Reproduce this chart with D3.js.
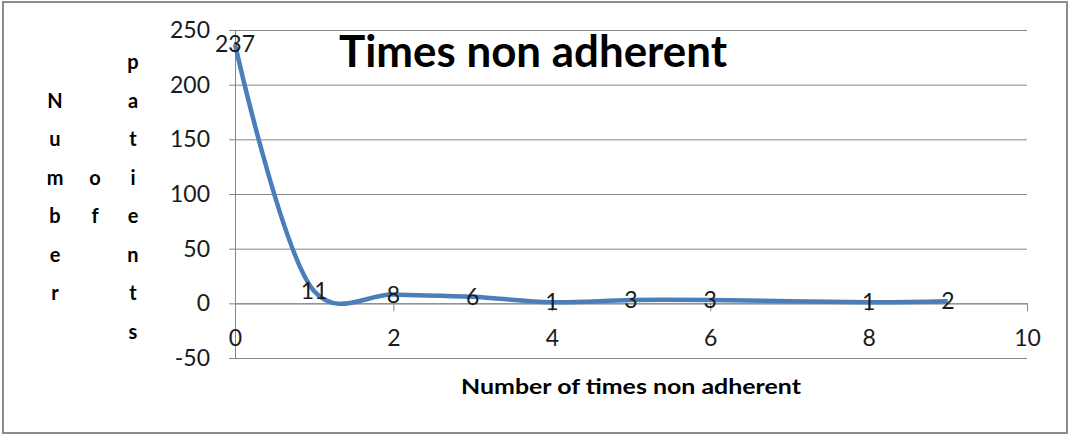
<!DOCTYPE html>
<html>
<head>
<meta charset="utf-8">
<script src="https://cdn.jsdelivr.net/npm/d3@7"></script>
<style>
body { margin: 0; background: #fff; }
text { font-family: Lato, "Open Sans", sans-serif; }
</style>
</head>
<body>
<div id="chart"></div>
<script>
(function(d3) {
'use strict';

var timesNonAdherent = [0, 1, 2, 3, 4, 5, 6, 8, 9];
var patients = [237, 11, 8, 6, 1, 3, 3, 1, 2];
var xTicks = [0, 2, 4, 6, 8, 10];
var yTicks = [-50, 0, 50, 100, 150, 200, 250];

var width = 1071;
var height = 437;
var margin = {left: 235, right: 44, top: 30, bottom: 79};

var x = d3.scaleLinear()
	.domain([0, 10])
	.range([margin.left, width - margin.right]);

var y = d3.scaleLinear()
	.domain([-50, 250])
	.range([height - margin.bottom, margin.top]);

var svg = d3.select('#chart')
	.append('svg')
	.attr('width', width)
	.attr('height', height);

// outer frame
svg.append('rect')
	.attr('x', 3).attr('y', 2)
	.attr('width', 1064).attr('height', 431)
	.attr('fill', '#fff')
	.attr('stroke', '#8c8c8c')
	.attr('stroke-width', 2);

// horizontal gridlines + y tick marks
var yAxis = d3.axisLeft(y)
	.tickValues(yTicks)
	.tickFormat(function(d) { return String(d); })
	.tickSize(-(x(10) - x(0)))
	.tickSizeOuter(0)
	.tickPadding(0);

var gy = svg.append('g')
	.attr('transform', 'translate(' + x(0) + ',0)')
	.call(yAxis);
gy.select('.domain').attr('stroke', '#868686');
gy.selectAll('.tick line')
	.attr('stroke', '#868686')
	.attr('x1', -6);
gy.selectAll('.tick text')
	.attr('x', -25)
	.attr('font-size', 23)
	.attr('fill', '#1a1a1a')
	.attr('font-family', 'Lato, sans-serif');

// x axis sits at y = 0, labels drawn near the bottom
var xAxis = d3.axisBottom(x)
	.tickValues(xTicks)
	.tickSize(8)
	.tickSizeOuter(0);

var gx = svg.append('g')
	.attr('transform', 'translate(0,' + y(0) + ')')
	.call(xAxis);
gx.select('.domain').attr('stroke', '#868686');
gx.selectAll('.tick line').attr('stroke', '#868686').attr('y1', 0).attr('y2', 8);
gx.selectAll('.tick text')
	.attr('y', 43)
	.attr('dy', 0)
	.attr('font-size', 23)
	.attr('fill', '#1a1a1a')
	.attr('font-family', 'Lato, sans-serif');

// smoothed series line
var points = timesNonAdherent.map(function(t, i) { return {t: t, n: patients[i]}; });

var line = d3.line()
	.x(function(d) { return x(d.t); })
	.y(function(d) { return y(d.n); })
	.curve(d3.curveCatmullRom.alpha(0.25));

svg.append('path')
	.datum(points)
	.attr('d', line)
	.attr('fill', 'none')
	.attr('stroke', '#4a7ebb')
	.attr('stroke-width', 4.5)
	.attr('stroke-linejoin', 'round');

// data labels centred on points
svg.append('g')
	.selectAll('text')
	.data(points)
	.enter().append('text')
	.attr('x', function(d) { return x(d.t); })
	.attr('y', function(d) { return y(d.n); })
	.attr('dy', '0.35em')
	.attr('text-anchor', 'middle')
	.attr('font-size', 23)
	.attr('fill', '#1a1a1a')
	.text(function(d) { return d.n; });

// title
svg.append('text')
	.attr('x', 533)
	.attr('y', 67)
	.attr('text-anchor', 'middle')
	.attr('font-size', 44)
	.attr('font-weight', 'bold')
	.attr('textLength', 388)
	.attr('lengthAdjust', 'spacingAndGlyphs')
	.attr('fill', '#000')
	.text('Times non adherent');

// x axis title
svg.append('text')
	.attr('x', 631)
	.attr('y', 394)
	.attr('text-anchor', 'middle')
	.attr('font-size', 21)
	.attr('font-weight', 'bold')
	.attr('textLength', 340)
	.attr('lengthAdjust', 'spacingAndGlyphs')
	.attr('fill', '#000')
	.text('Number of times non adherent');

// y axis title, stacked letters in three columns
var yTitle = [
	{word: 'Number', cx: 55, row: 1},
	{word: 'of', cx: 95, row: 3},
	{word: 'patients', cx: 133, row: 0}
];
var rowY0 = 69, rowStep = 38.5;
yTitle.forEach(function(w) {
	svg.append('g')
		.selectAll('text')
		.data(w.word.split(''))
		.enter().append('text')
		.attr('x', w.cx)
		.attr('y', function(c, i) { return rowY0 + (w.row + i) * rowStep; })
		.attr('text-anchor', 'middle')
		.attr('font-size', 20)
		.attr('font-weight', 'bold')
		.attr('fill', '#000')
		.text(function(c) { return c; });
});

})(window.d3);
</script>
</body>
</html>
